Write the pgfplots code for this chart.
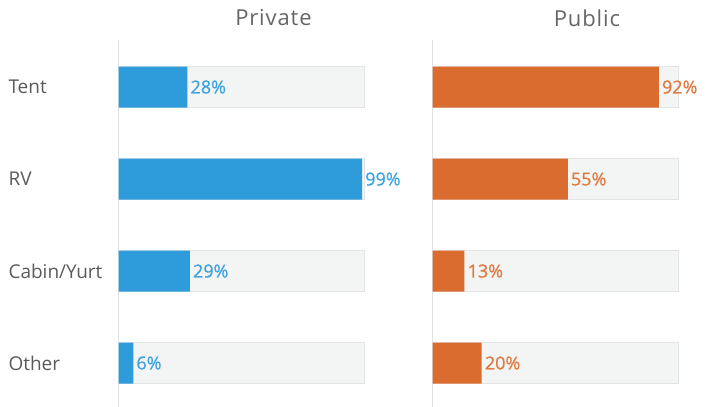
\documentclass[border=0pt]{standalone}
\usepackage{fontspec}
\setmainfont{Open Sans}
\usepackage{pgfplots}
\pgfplotsset{compat=1.18}
\definecolor{barblue}{HTML}{2E9CDB}
\definecolor{txtblue}{HTML}{3EA3DF}
\definecolor{barorange}{HTML}{DB6C30}
\definecolor{txtorange}{HTML}{E07A3E}
\definecolor{bggrey}{HTML}{F3F4F4}
\definecolor{bgedge}{HTML}{E3E5E5}
\definecolor{axgrey}{HTML}{E0E0E0}
\definecolor{labgrey}{HTML}{5A5A5A}
\definecolor{titgrey}{HTML}{666666}

\tikzset{
  bgbar/.style={fill=bggrey, draw=bgedge, line width=0.8pt},
  vallab/.style={font=\fontsize{18}{21}\selectfont\addfontfeature{FakeBold=0.8}, inner sep=3pt},
}
\pgfplotsset{
  panel/.style={
    xbar, scale only axis, width=246pt, height=367pt,
    xmin=0, xmax=100, ymin=-0.511, ymax=3.478, y dir=reverse,
    bar width=41pt, bar shift=0pt,
    axis x line=none, axis y line=left,
    y axis line style={draw=axgrey, line width=1.6pt, -},
    ytick={0,1,2,3}, major tick length=0pt,
    anchor=south west, clip=false,
    /pgf/number format/assume math mode=true,
  },
}

\begin{document}
\begin{tikzpicture}
\path[use as bounding box] (0pt,0pt) rectangle (707pt,407pt);

\begin{axis}[panel, at={(118.5pt,0pt)},
  yticklabels={Tent,RV,Cabin/Yurt,Other},
  yticklabel style={anchor=west, xshift=-113.5pt, text=labgrey,
    font=\fontsize{19}{23}\selectfont}]
\addplot[bgbar] coordinates {(100,0) (100,1) (100,2) (100,3)};
\addplot[fill=barblue, draw=none,
  nodes near coords={\pgfmathprintnumber{\pgfplotspointmeta}\%},
  point meta=x,
  every node near coord/.style={vallab, text=txtblue}]
  coordinates {(28,0) (99,1) (29,2) (6,3)};
\end{axis}

\begin{axis}[panel, at={(432.5pt,0pt)}, yticklabels={}]
\addplot[bgbar] coordinates {(100,0) (100,1) (100,2) (100,3)};
\addplot[fill=barorange, draw=none,
  nodes near coords={\pgfmathprintnumber{\pgfplotspointmeta}\%},
  point meta=x,
  every node near coord/.style={vallab, text=txtorange}]
  coordinates {(92,0) (55,1) (13,2) (20,3)};
\end{axis}

\node[text=titgrey, font=\fontsize{22}{26}\selectfont\addfontfeature{LetterSpace=4}] at (273.5pt,389pt) {Private};
\node[text=titgrey, font=\fontsize{22}{26}\selectfont\addfontfeature{LetterSpace=4}] at (587pt,389pt) {Public};
\end{tikzpicture}
\end{document}
